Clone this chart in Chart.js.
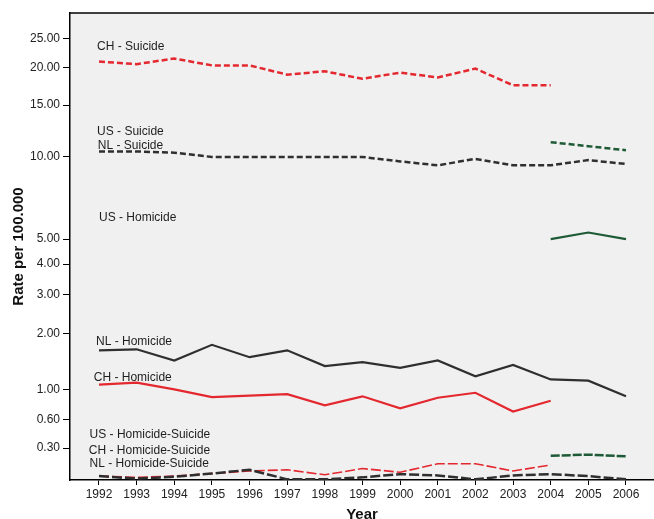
<!DOCTYPE html>
<html>
<head>
<meta charset="utf-8">
<script src="https://cdn.jsdelivr.net/npm/chart.js@4/dist/chart.umd.min.js"></script>
<style>
  html, body { margin: 0; padding: 0; background: #ffffff; }
  #wrap { width: 654px; height: 519px; }
</style>
</head>
<body>
<div id="wrap"><canvas id="rateChart" width="654" height="519"></canvas></div>
<script>
// ── Data (rates per 100.000) ──────────────────────────────────────────────
const yearsAll = [1992, 1993, 1994, 1995, 1996, 1997, 1998, 1999, 2000, 2001, 2002, 2003, 2004, 2005, 2006];
const yearsCH = [1992, 1993, 1994, 1995, 1996, 1997, 1998, 1999, 2000, 2001, 2002, 2003, 2004];
const yearsUS = [2004, 2005, 2006];

const chSuicide = [21.0, 20.6, 21.5, 20.4, 20.4, 19.0, 19.5, 18.4, 19.3, 18.6, 19.9, 17.5, 17.5];
const nlSuicide = [10.4, 10.4, 10.3, 9.95, 9.95, 9.95, 9.95, 9.95, 9.6, 9.3, 9.8, 9.3, 9.3, 9.7, 9.4];
const usSuicide = [11.2, 10.85, 10.5];

const usHomicide = [5.0, 5.3, 5.0];
const nlHomicide = [1.66, 1.68, 1.47, 1.77, 1.53, 1.66, 1.37, 1.44, 1.34, 1.47, 1.2, 1.39, 1.15, 1.13, 0.9];
const chHomicide = [1.07, 1.1, 1.0, 0.89, 0.91, 0.93, 0.78, 0.9, 0.74, 0.88, 0.95, 0.7, 0.84];

const usHomSuicide = [0.23, 0.24, 0.225];
const chHomSuicide = [0.06, 0.05, 0.06, 0.08, 0.10, 0.11, 0.07, 0.12, 0.09, 0.16, 0.16, 0.10, 0.15];
const nlHomSuicide = [0.06, 0.04, 0.055, 0.08, 0.11, 0.035, 0.035, 0.05, 0.075, 0.065, 0.035, 0.065, 0.075, 0.06, 0.035];

const yTickValues = [0.30, 0.60, 1, 2, 3, 4, 5, 10, 15, 20, 25];

// in-plot series labels: [text, year, rate]
const seriesLabels = [
    ['CH - Suicide', 1991.95, 23.5],
    ['US - Suicide', 1991.95, 12.2],
    ['NL - Suicide', 1991.97, 10.85],
    ['US - Homicide', 1992.0, 6.03],
    ['NL - Homicide', 1991.92, 1.83],
    ['CH - Homicide', 1991.86, 1.17],
    ['US - Homicide-Suicide', 1991.75, 0.44],
    ['CH - Homicide-Suicide', 1991.73, 0.28],
    ['NL - Homicide-Suicide', 1991.75, 0.16]
];

// ── Axis transform: the figure uses a log(rate + 1) scale ─────────────────
const tf = v => Math.log(v + 1);
const toPoints = (xs, ys) => xs.map((x, i) => ({ x: x, y: tf(ys[i]) }));

const RED = '#e3282f';
const DARK = '#2f2f2f';
const GREEN = '#1d5a35';
const FONT = '"Liberation Sans", Arial, sans-serif';

const line = (data, color, width, dash) => ({
    data: data,
    borderColor: color,
    borderWidth: width,
    borderDash: dash,
    pointRadius: 0,
    tension: 0,
    fill: false
});

const panelPlugin = {
    id: 'panel',
    beforeDraw(chart) {
        const { ctx, chartArea: a } = chart;
        ctx.save();
        ctx.fillStyle = '#f0f0f0';
        ctx.fillRect(a.left, a.top, a.right - a.left, a.bottom - a.top);
        ctx.restore();
    },
    afterDraw(chart) {
        const { ctx, chartArea: a } = chart;
        ctx.save();
        ctx.strokeStyle = '#000000';
        ctx.lineWidth = 1.5;
        ctx.beginPath();
        ctx.moveTo(a.left, a.top);
        ctx.lineTo(a.right, a.top);
        ctx.stroke();
        ctx.restore();
    }
};

const labelPlugin = {
    id: 'seriesLabels',
    afterDatasetsDraw(chart) {
        const { ctx, scales: { x, y } } = chart;
        ctx.save();
        ctx.font = '12px ' + FONT;
        ctx.fillStyle = '#1e1e1e';
        ctx.textAlign = 'left';
        ctx.textBaseline = 'middle';
        seriesLabels.forEach(([text, yr, val]) => {
            ctx.fillText(text, x.getPixelForValue(yr), y.getPixelForValue(tf(val)));
        });
        ctx.restore();
    }
};

new Chart(document.getElementById('rateChart').getContext('2d'), {
    type: 'line',
    data: {
        datasets: [
            line(toPoints(yearsCH, chSuicide), RED, 2.5, [6, 3]),
            line(toPoints(yearsAll, nlSuicide), DARK, 2.5, [6, 3]),
            line(toPoints(yearsUS, usSuicide), GREEN, 2.5, [6, 3]),
            line(toPoints(yearsUS, usHomicide), GREEN, 2.2, []),
            line(toPoints(yearsAll, nlHomicide), DARK, 2.2, []),
            line(toPoints(yearsCH, chHomicide), RED, 2.2, []),
            line(toPoints(yearsUS, usHomSuicide), GREEN, 2.5, [9, 2]),
            line(toPoints(yearsAll, nlHomSuicide), DARK, 2.5, [10, 3]),
            line(toPoints(yearsCH, chHomSuicide), RED, 1.6, [10, 3])
        ]
    },
    options: {
        responsive: false,
        animation: false,
        layout: { padding: { top: 13, right: 0, left: 0, bottom: 0 } },
        plugins: {
            legend: { display: false },
            tooltip: { enabled: false }
        },
        scales: {
            x: {
                type: 'linear',
                min: 1991.23,
                max: 2006.744,
                afterBuildTicks: s => { s.ticks = yearsAll.map(v => ({ value: v })); },
                afterFit: s => { s.height = 39; },
                grid: { display: true, drawOnChartArea: false, drawTicks: true, tickLength: 5, color: '#000000' },
                border: { display: true, color: '#000000', width: 1.5 },
                ticks: {
                    color: '#222222',
                    padding: 2,
                    maxRotation: 0,
                    autoSkip: false,
                    font: { family: FONT, size: 12 },
                    callback: v => String(v)
                },
                title: {
                    display: true,
                    text: 'Year',
                    color: '#111111',
                    font: { family: FONT, size: 15, weight: 'bold' },
                    padding: { top: 0, bottom: -5 }
                }
            },
            y: {
                type: 'linear',
                min: tf(0.03),
                max: tf(30.4),
                afterBuildTicks: s => { s.ticks = yTickValues.map(v => ({ value: tf(v) })); },
                afterFit: s => { s.width = 70; },
                grid: { display: true, drawOnChartArea: false, drawTicks: true, tickLength: 7, color: '#000000' },
                border: { display: true, color: '#000000', width: 1.5 },
                ticks: {
                    color: '#222222',
                    padding: 3,
                    autoSkip: false,
                    font: { family: FONT, size: 12 },
                    callback: v => (Math.exp(v) - 1).toFixed(2)
                },
                title: {
                    display: true,
                    text: 'Rate per 100.000',
                    color: '#111111',
                    font: { family: FONT, size: 15, weight: 'bold' },
                    padding: { top: 10, bottom: 0 }
                }
            }
        }
    },
    plugins: [panelPlugin, labelPlugin]
});
</script>
</body>
</html>
